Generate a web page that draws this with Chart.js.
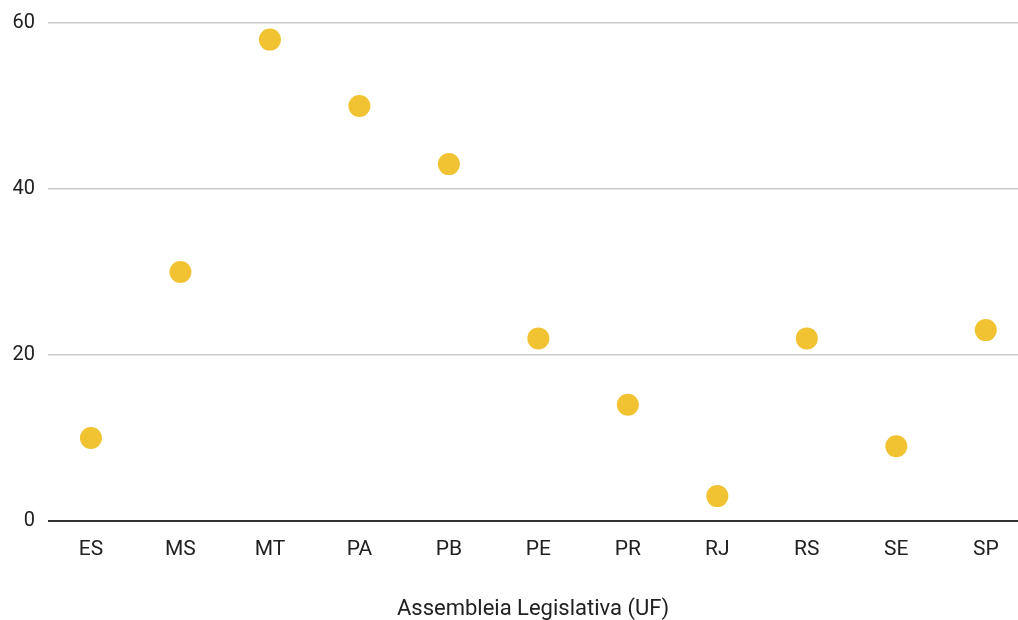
<!DOCTYPE html>
<html>
<head>
<meta charset="utf-8">
<script src="https://cdn.jsdelivr.net/npm/chart.js@4"></script>
<style>
  html, body { margin: 0; padding: 0; background: #fff; overflow: hidden; }
  canvas { display: block; }
</style>
</head>
<body>
<canvas id="chart" width="1018" height="620"></canvas>
<script>
// categories and values
const states = ['ES', 'MS', 'MT', 'PA', 'PB', 'PE', 'PR', 'RJ', 'RS', 'SE', 'SP'];
const values = [10, 30, 58, 50, 43, 22, 14, 3, 22, 9, 23];
const yTicks = [0, 20, 40, 60];

let points = states.map((s, i) => ({ x: i, y: values[i] }));

let ctx = document.getElementById('chart').getContext('2d');
new Chart(ctx, {
  type: 'scatter',
  data: {
    datasets: [{
      data: points,
      backgroundColor: '#F1C232',
      borderWidth: 0,
      pointRadius: 11,
      pointHoverRadius: 11,
      clip: false
    }]
  },
  options: {
    responsive: false,
    animation: false,
    layout: { autoPadding: false, padding: { top: 23, right: 0, left: 0, bottom: 0 } },
    plugins: {
      legend: { display: false },
      tooltip: { enabled: false }
    },
    events: [],
    scales: {
      x: {
        type: 'linear',
        min: -0.48,
        max: 10.36,
        grid: { display: false, drawTicks: false },
        border: { display: false },
        afterBuildTicks: axis => { axis.ticks = states.map((s, i) => ({ value: i })); },
        afterFit: axis => {
          axis.height = 99;
          axis.paddingLeft = 0;
          axis.paddingRight = 0;
        },
        ticks: {
          autoSkip: false,
          maxRotation: 0,
          padding: 16,
          color: '#212121',
          font: { family: 'Roboto', size: 21 },
          callback: v => states[v]
        },
        title: {
          display: true,
          text: 'Assembleia Legislativa (UF)',
          color: '#212121',
          font: { family: 'Roboto', size: 22 },
          padding: { top: 0, bottom: -3 }
        }
      },
      y: {
        min: 0,
        max: 60,
        afterBuildTicks: axis => { axis.ticks = yTicks.map(v => ({ value: v })); },
        afterFit: axis => {
          axis.width = 48;
          axis.paddingTop = 0;
          axis.paddingBottom = 0;
        },
        grid: {
          drawTicks: false,
          color: c => c.tick && c.tick.value === 0 ? '#333' : '#ccc',
          lineWidth: c => c.tick && c.tick.value === 0 ? 2 : 1.5
        },
        border: { display: false },
        ticks: {
          padding: 13,
          color: '#212121',
          font: { family: 'Roboto', size: 20 }
        }
      }
    }
  }
});
</script>
</body>
</html>
